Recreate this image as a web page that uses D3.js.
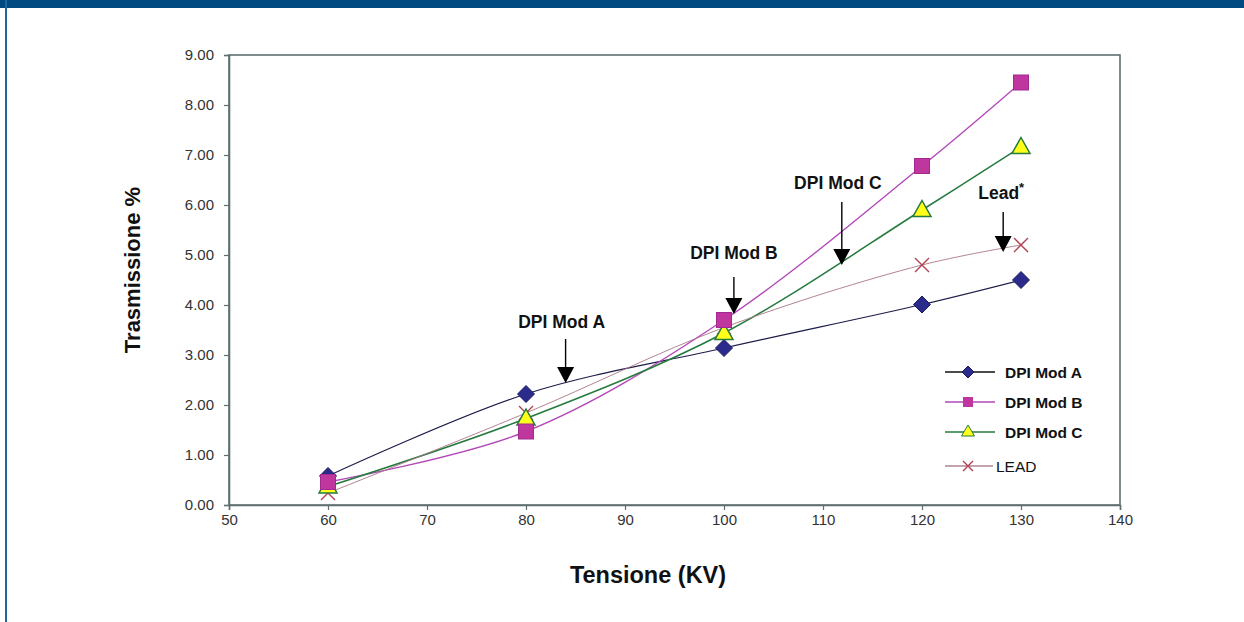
<!DOCTYPE html>
<html>
<head>
<meta charset="utf-8">
<script src="https://cdn.jsdelivr.net/npm/d3@7"></script>
<style>
  body { margin: 0; background: #fff; }
  svg { display: block; font-family: Arial, "Liberation Sans", sans-serif; }
</style>
</head>
<body>
<svg id="chart" width="1244" height="622"></svg>
<script>
// data
var tensione = [60, 80, 100, 120, 130];
var modA = [0.58, 2.22, 3.14, 4.01, 4.5];
var modB = [0.46, 1.47, 3.7, 6.78, 8.45];
var modC = [0.37, 1.73, 3.44, 5.9, 7.16];
var lead = [0.24, 1.84, 3.55, 4.8, 5.2];
var seriesNames = ['DPI Mod A', 'DPI Mod B', 'DPI Mod C', 'LEAD'];
var xTicks = [50, 60, 70, 80, 90, 100, 110, 120, 130, 140];
var yTicks = [0, 1, 2, 3, 4, 5, 6, 7, 8, 9];

// annotations: label, x value, y value of the arrow tip
var notes = [
  { text: 'DPI Mod A', x: 84.0, y: 2.44, top: 3.32, tx: 83.6, ty: 3.55 },
  { text: 'DPI Mod B', x: 101.0, y: 3.82, top: 4.56, tx: 101.0, ty: 4.93 },
  { text: 'DPI Mod C', x: 111.9, y: 4.8, top: 6.06, tx: 111.5, ty: 6.33 },
  { text: 'Lead', x: 128.2, y: 5.06, top: 5.86, tx: 128.0, ty: 6.12 }
];

var svg = d3.select('#chart');

// frame of the page
svg.append('rect').attr('x', 0).attr('y', 0).attr('width', 1244).attr('height', 8).attr('fill', '#004a82');
svg.append('rect').attr('x', 5).attr('y', 0).attr('width', 2).attr('height', 622).attr('fill', '#1f67a0');

var x = d3.scaleLinear().domain([50, 140]).range([229, 1120]);
var y = d3.scaleLinear().domain([0, 9]).range([505, 55]);

var axisColor = '#5f6f70';

// box
svg.append('rect')
  .attr('x', x(50)).attr('y', y(9))
  .attr('width', x(140) - x(50)).attr('height', y(0) - y(9))
  .attr('fill', 'none').attr('stroke', axisColor).attr('stroke-width', 1.6);

var yAxis = svg.append('g')
  .attr('transform', 'translate(' + x(50) + ',0)')
  .call(d3.axisLeft(y).tickValues(yTicks).tickSize(5).tickFormat(d3.format('.2f')));
var xAxis = svg.append('g')
  .attr('transform', 'translate(0,' + y(0) + ')')
  .call(d3.axisBottom(x).tickValues(xTicks).tickSize(5).tickFormat(d3.format('d')));

[xAxis, yAxis].forEach(function (a) {
  a.select('.domain').attr('stroke', axisColor).attr('stroke-width', 1.6);
  a.selectAll('.tick line').attr('stroke', axisColor).attr('stroke-width', 1.2);
  a.selectAll('.tick text').attr('fill', '#333').attr('font-size', 15)
    .attr('font-family', 'Arial, "Liberation Sans", sans-serif');
});
xAxis.selectAll('.tick text').attr('dy', '0.85em').attr('y', 7);
yAxis.selectAll('.tick text').attr('x', -15);

// axis titles
svg.append('text')
  .attr('x', 648).attr('y', 583)
  .attr('text-anchor', 'middle')
  .attr('font-size', 23.5).attr('font-weight', 'bold').attr('fill', '#111')
  .text('Tensione (KV)');
svg.append('text')
  .attr('transform', 'translate(140,270) rotate(-90)')
  .attr('text-anchor', 'middle')
  .attr('font-size', 22).attr('font-weight', 'bold').attr('fill', '#111')
  .text('Trasmissione %');

var styles = [
  { values: modA, line: '#1c1c4a', width: 1.2, marker: 'diamond', fill: '#2b2b8c', stroke: '#1c1c60' },
  { values: modB, line: '#b347b8', width: 1.4, marker: 'square', fill: '#c0369f', stroke: '#a02a90' },
  { values: modC, line: '#257a3e', width: 1.5, marker: 'triangle', fill: '#ffff1a', stroke: '#257a3e' },
  { values: lead, line: '#a87684', width: 0.9, marker: 'cross', fill: 'none', stroke: '#b04050' }
];

var line = d3.line()
  .x(function (d) { return x(d[0]); })
  .y(function (d) { return y(d[1]); })
  .curve(d3.curveCatmullRom.alpha(0.5));

function drawMarker(g, type, cx, cy, s) {
  if (type === 'diamond') {
    g.append('path')
      .attr('d', 'M' + cx + ',' + (cy - 8.5) + 'L' + (cx + 8.5) + ',' + cy + 'L' + cx + ',' + (cy + 8.5) + 'L' + (cx - 8.5) + ',' + cy + 'Z')
      .attr('fill', s.fill).attr('stroke', s.stroke).attr('stroke-width', 1);
  } else if (type === 'square') {
    g.append('rect')
      .attr('x', cx - 7.5).attr('y', cy - 7.5).attr('width', 15).attr('height', 15)
      .attr('fill', s.fill).attr('stroke', s.stroke).attr('stroke-width', 1);
  } else if (type === 'triangle') {
    g.append('path')
      .attr('d', 'M' + cx + ',' + (cy - 9.5) + 'L' + (cx + 9) + ',' + (cy + 6.5) + 'L' + (cx - 9) + ',' + (cy + 6.5) + 'Z')
      .attr('fill', s.fill).attr('stroke', s.stroke).attr('stroke-width', 1.5);
  } else {
    g.append('path')
      .attr('d', 'M' + (cx - 7) + ',' + (cy - 7) + 'L' + (cx + 7) + ',' + (cy + 7) + 'M' + (cx + 7) + ',' + (cy - 7) + 'L' + (cx - 7) + ',' + (cy + 7))
      .attr('fill', 'none').attr('stroke', s.stroke).attr('stroke-width', 1.4);
  }
}

var plot = svg.append('g');
styles.forEach(function (s) {
  var pts = tensione.map(function (t, i) { return [t, s.values[i]]; });
  plot.append('path')
    .attr('d', line(pts))
    .attr('fill', 'none')
    .attr('stroke', s.line)
    .attr('stroke-width', s.width);
});
// markers drawn on top, lead first so the others cover it like in the picture
[3, 0, 2, 1].forEach(function (k) {
  var s = styles[k];
  tensione.forEach(function (t, i) {
    drawMarker(plot, s.marker, x(t), y(s.values[i]), s);
  });
});

// annotations with arrows
var ann = svg.append('g');
notes.forEach(function (n) {
  var ax = x(n.x), tip = y(n.y), top = y(n.top);
  ann.append('line')
    .attr('x1', ax).attr('x2', ax).attr('y1', top).attr('y2', tip - 14)
    .attr('stroke', '#000').attr('stroke-width', 1.4);
  ann.append('path')
    .attr('d', 'M' + (ax - 8.5) + ',' + (tip - 16) + 'L' + (ax + 8.5) + ',' + (tip - 16) + 'L' + ax + ',' + tip + 'Z')
    .attr('fill', '#000');
  var t = ann.append('text')
    .attr('x', x(n.tx)).attr('y', y(n.ty))
    .attr('text-anchor', 'middle')
    .attr('font-size', 17.5).attr('font-weight', 'bold')
    .attr('fill', '#111')
    .text(n.text);
  if (n.text === 'Lead') {
    t.append('tspan').attr('dy', -7).attr('font-size', 13).text('*');
  }
});

// legend
var legend = svg.append('g');
var legendY = [372, 402, 432, 466];
seriesNames.forEach(function (name, i) {
  var s = styles[i];
  var ly = legendY[i];
  var lineColor = i === 0 ? '#111' : (i === 3 ? '#8a4a5a' : s.line);
  legend.append('line')
    .attr('x1', 945).attr('x2', i === 3 ? 993 : 995).attr('y1', ly).attr('y2', ly)
    .attr('stroke', lineColor).attr('stroke-width', i === 3 ? 1.2 : 1.5);
  var g = legend.append('g');
  var ms = { fill: s.fill, stroke: s.stroke };
  if (s.marker === 'diamond') {
    g.append('path').attr('d', 'M968,' + (ly - 6) + 'L974,' + ly + 'L968,' + (ly + 6) + 'L962,' + ly + 'Z')
      .attr('fill', ms.fill).attr('stroke', ms.stroke);
  } else if (s.marker === 'square') {
    g.append('rect').attr('x', 963).attr('y', ly - 5).attr('width', 10).attr('height', 10).attr('fill', ms.fill);
  } else if (s.marker === 'triangle') {
    g.append('path').attr('d', 'M968,' + (ly - 7) + 'L974.5,' + (ly + 4) + 'L961.5,' + (ly + 4) + 'Z')
      .attr('fill', ms.fill).attr('stroke', ms.stroke);
  } else {
    g.append('path').attr('d', 'M963,' + (ly - 5) + 'L973,' + (ly + 5) + 'M973,' + (ly - 5) + 'L963,' + (ly + 5))
      .attr('stroke', ms.stroke).attr('stroke-width', 1.4);
  }
  legend.append('text')
    .attr('x', i === 3 ? 996 : 1005).attr('y', ly + 5.5)
    .attr('font-size', 15.5).attr('font-weight', i === 3 ? 'normal' : 'bold')
    .attr('fill', '#111')
    .text(name);
});
</script>
</body>
</html>
